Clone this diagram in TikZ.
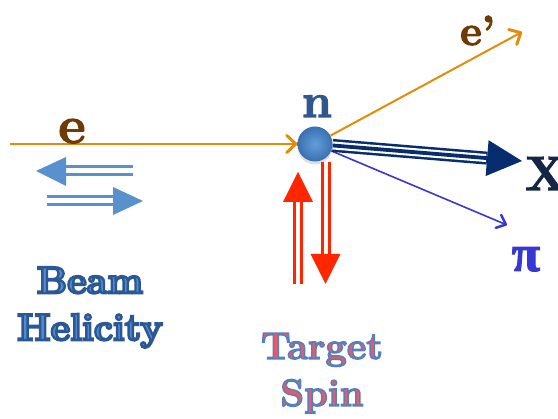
\documentclass[tikz,border=0pt]{standalone}
\usepackage{fontspec}
\newfontfamily\piserif{Liberation Serif}
\usetikzlibrary{arrows.meta,calc,shadows}
\definecolor{eorange}{RGB}{226,140,10}
\definecolor{ebrown}{RGB}{110,58,5}
\definecolor{nblue}{RGB}{48,88,140}
\definecolor{helblue}{RGB}{88,145,205}
\definecolor{xnavy}{RGB}{8,45,110}
\definecolor{xtext}{RGB}{20,38,70}
\definecolor{piblue}{RGB}{55,55,210}
\definecolor{spinred}{RGB}{255,38,0}
\definecolor{ballin}{RGB}{98,158,218}
\definecolor{ballout}{RGB}{58,112,178}
\definecolor{beamfill}{RGB}{82,140,206}
\definecolor{tgtfill}{RGB}{242,86,98}
\newcommand\outlinedtext[3]{\special{pdf:literal direct 2 Tr #1 w #2 RG}#3\special{pdf:literal direct 0 Tr}}
\tikzset{
  particle/.style={line width=2pt},
  barb/.style={-{Straight Barb[length=9pt,width=17pt,line width=3pt,round]}},
  smallbarb/.style={-{Straight Barb[length=8pt,width=14pt,line width=2.5pt,round]}},
  bigtext/.style={font=\bfseries\fontsize{38}{47}\selectfont, align=center, inner sep=0pt, anchor=north},
  letter/.style={inner sep=0pt, anchor=base},
}
\begin{document}
\begin{tikzpicture}[x=1pt,y=-1pt]
\useasboundingbox (0,0) rectangle (558,419);

% target ball
\node[circle, minimum size=35pt, inner sep=0pt, inner color=ballin, outer color=ballout,
      drop shadow={opacity=0.25, shadow xshift=0pt, shadow yshift=-3pt}] (ball) at (315,144) {};

% incoming electron
\coordinate (estart) at (10,144);
\draw[eorange, particle, barb] (estart) -- (ball);

% scattered electron
\coordinate (eptip) at (522,32);
\draw[eorange, particle, barb] (ball) -- (eptip);

% pion
\coordinate (pitip) at (507,225);
\draw[piblue, line width=1.6pt, smallbarb] (ball) -- (pitip);

% X (triple line)
\coordinate (xtip) at (522,161);
\coordinate (xbase) at ($(xtip)!35pt!(ball.center)$);
\draw[xnavy, line width=13pt] (ball) -- (xbase);
\draw[white, line width=8pt] (ball) -- ($(xbase)!-1pt!(xtip)$);
\draw[xnavy, line width=3.8pt] (ball) -- (xbase);
\fill[xnavy] (xtip) -- ($(xbase)!18pt!90:(xtip)$) -- ($(xbase)!18pt!-90:(xtip)$) -- cycle;

% labels
\node[letter, font=\bfseries\fontsize{53}{53}\selectfont, text=ebrown] (elab) at (72,143) {\outlinedtext{1.2}{0.43 0.23 0.02}{e}};
\node[letter, font=\bfseries\fontsize{48}{48}\selectfont, text=nblue] (nlab) at (317,117) {\outlinedtext{1.2}{0.19 0.35 0.55}{n}};
\node[letter, anchor=base west, font=\bfseries\fontsize{42}{42}\selectfont, text=ebrown] (eplab) at (460,45) {\outlinedtext{1.2}{0.43 0.23 0.02}{e’}};
\node[letter, anchor=base west, font=\bfseries\fontsize{48}{48}\selectfont, text=xtext] (xlab) at (525,190) {\outlinedtext{1.2}{0.08 0.15 0.27}{X}};
\node[letter, font=\piserif\bfseries\fontsize{52}{52}\selectfont, text=piblue] (pilab) at (526,271) {\outlinedtext{1}{0.22 0.22 0.82}{π}};

% beam helicity arrows
\draw[helblue, line width=3pt, double=white, double distance=5pt] (64,171) -- (133,171);
\fill[helblue] (36,171) -- (66,157) -- (66,186) -- cycle;
\draw[helblue, line width=3pt, double=white, double distance=5pt] (47,201) -- (115,201);
\fill[helblue] (143,201) -- (113,187) -- (113,215) -- cycle;

% target spin arrows
\draw[spinred, line width=3pt, double=white, double distance=4pt] (298,284) -- (298,200);
\fill[spinred] (298,172) -- (283,202) -- (313,202) -- cycle;
\draw[spinred, line width=3pt, double=white, double distance=4pt] (325.5,162) -- (325.5,256);
\fill[spinred] (325.5,284) -- (310.5,254) -- (340.5,254) -- cycle;

% captions
\node[bigtext, text=beamfill] (beam) at (90,267) {\outlinedtext{2.4}{0.17 0.34 0.58}{Beam\\Helicity}};
\node[bigtext, text=tgtfill] (target) at (322,333) {\outlinedtext{1.5}{0.33 0.5 0.75}{Target\\Spin}};
\end{tikzpicture}
\end{document}
